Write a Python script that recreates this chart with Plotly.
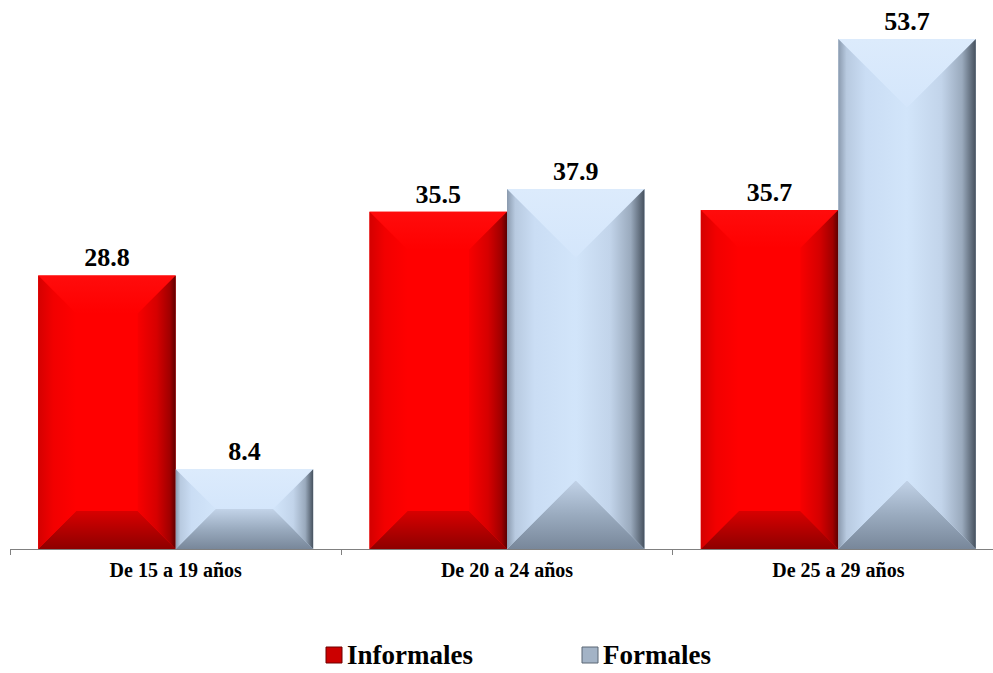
import plotly.graph_objects as go

# Youth employment by age group: informal vs formal (%)
categories = ["De 15 a 19 años", "De 20 a 24 años", "De 25 a 29 años"]
informales = [28.8, 35.5, 35.7]
formales = [8.4, 37.9, 53.7]
series_names = ["Informales", "Formales"]

# Canvas and plot-area geometry (pixels)
W, H = 993, 673
M_L, M_R, M_T, M_B = 10, 0, 20, 124
PLOT_W = W - M_L - M_R
PLOT_H = H - M_T - M_B
CAT_PX = 331.33                      # width of one category band
X_RANGE = [-0.5, -0.5 + PLOT_W / CAT_PX]
Y_RANGE = [0, 55.7]
PX_X = PLOT_W / (X_RANGE[1] - X_RANGE[0])
PX_Y = PLOT_H / (Y_RANGE[1] - Y_RANGE[0])

BARGAP = 0.17
BAR_W = (1 - BARGAP) / 2

FONT = "Times New Roman, Liberation Serif, serif"

# Bevel styling per series: bevel size (px), base colour, facet colour scales
styles = {
    "Informales": dict(
        bevel=38, base="#FF0000",
        top=[[0, "#FF0000"], [1, "#FF0C0C"]],
        left=[[0, "#D40000"], [0.4, "#F20000"], [1, "#FF0000"]],
        right=[[0, "#F80000"], [0.5, "#D60000"], [0.85, "#A00000"], [1, "#5C0000"]],
        bottom=[[0, "#8E0000"], [1, "#D80000"]],
        key=("#CC0000", "#6E0000"),
    ),
    "Formales": dict(
        bevel=90, base="#D0E3F9",
        top=[[0, "#D4E6FB"], [1, "#DCEBFC"]],
        left=[[0, "#8A9AAE"], [0.12, "#B8CAE0"], [0.4, "#CADDF4"], [1, "#D2E5FA"]],
        right=[[0, "#D2E5FA"], [0.5, "#C2D4EA"], [0.8, "#9AAABD"], [1, "#46515E"]],
        bottom=[[0, "#78879A"], [0.5, "#9AABBF"], [1, "#C2D3E8"]],
        key=("#A3B3C6", "#5A6674"),
    ),
}

fig = go.Figure()

# Base bars with value labels
for name, vals in zip(series_names, [informales, formales]):
    st = styles[name]
    fig.add_trace(go.Bar(
        x=categories, y=vals, name=name, showlegend=False,
        marker=dict(color=st["base"], line=dict(width=0)),
        texttemplate="%{y:.1f}", textposition="outside",
        textfont=dict(family=FONT, size=26, color="#000000", weight="bold"),
        constraintext="none", cliponaxis=False, hoverinfo="skip",
    ))


def facet(xs, ys, scale, orient):
    return go.Scatter(
        x=xs + [xs[0]], y=ys + [ys[0]], xaxis="x2", yaxis="y",
        mode="lines", line=dict(width=0), fill="toself",
        fillgradient=dict(type=orient, colorscale=scale),
        showlegend=False, hoverinfo="skip",
    )


# Bevelled facets laid over each bar
for s_idx, (name, vals) in enumerate(zip(series_names, [informales, formales])):
    st = styles[name]
    for i, v in enumerate(vals):
        x0 = i - BAR_W + s_idx * BAR_W
        x1 = x0 + BAR_W
        w_px = BAR_W * PX_X
        h_px = v * PX_Y
        b = min(st["bevel"], w_px / 2, h_px / 2)
        bx, by = b / PX_X, b / PX_Y
        fig.add_trace(facet([x0, x1, x1 - bx, x0 + bx], [v, v, v - by, v - by], st["top"], "vertical"))
        fig.add_trace(facet([x0, x1, x1 - bx, x0 + bx], [0, 0, by, by], st["bottom"], "vertical"))
        fig.add_trace(facet([x0, x0, x0 + bx, x0 + bx], [0, v, v - by, by], st["left"], "horizontal"))
        fig.add_trace(facet([x1, x1, x1 - bx, x1 - bx], [0, v, v - by, by], st["right"], "horizontal"))


# Key below the chart: coloured square + bold label for each series
def px_to_paper_x(px):
    return (px - M_L) / PLOT_W


def px_to_paper_y(py):
    return (M_T + PLOT_H - py) / PLOT_H


KEY_Y = 655
KEY_SQ = 16
key_left = {"Informales": 326, "Formales": 582}
shapes, annotations = [], []
for name in series_names:
    fill, edge = styles[name]["key"]
    xl = key_left[name]
    shapes.append(dict(
        type="rect", xref="paper", yref="paper",
        x0=px_to_paper_x(xl), x1=px_to_paper_x(xl + KEY_SQ),
        y0=px_to_paper_y(KEY_Y + KEY_SQ / 2), y1=px_to_paper_y(KEY_Y - KEY_SQ / 2),
        fillcolor=fill, line=dict(color=edge, width=1),
    ))
    annotations.append(dict(
        text=name, xref="paper", yref="paper",
        x=px_to_paper_x(xl + KEY_SQ + 3), y=px_to_paper_y(KEY_Y),
        xanchor="left", yanchor="middle", showarrow=False,
        font=dict(family=FONT, size=27, color="#000000", weight="bold"),
    ))

fig.update_layout(
    width=W, height=H, template="none",
    margin=dict(l=M_L, r=M_R, t=M_T, b=M_B, autoexpand=False),
    paper_bgcolor="#FFFFFF", plot_bgcolor="#FFFFFF",
    barmode="group", bargap=BARGAP, bargroupgap=0,
    font=dict(family=FONT, color="#000000"),
    xaxis=dict(
        type="category", range=X_RANGE, tickson="boundaries",
        ticks="outside", ticklen=5, tickcolor="#808080", tickwidth=1,
        ticklabelstandoff=3,
        showline=True, linecolor="#808080", linewidth=1,
        showgrid=False, zeroline=False, automargin=False,
        tickfont=dict(family=FONT, size=20, color="#000000", weight="bold"),
    ),
    xaxis2=dict(overlaying="x", range=X_RANGE, visible=False),
    yaxis=dict(range=Y_RANGE, visible=False, showgrid=False, zeroline=False),
    showlegend=False,
    shapes=shapes,
    annotations=annotations,
)

fig.write_html("out.html")
